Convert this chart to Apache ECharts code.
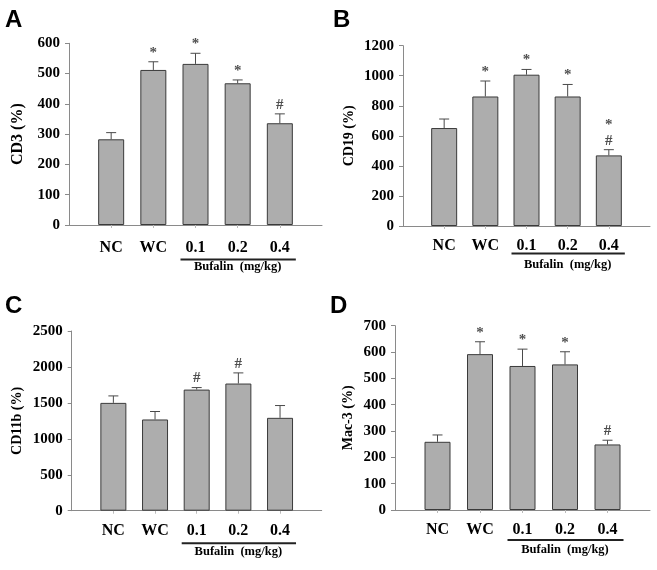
<!DOCTYPE html>
<html><head><meta charset="utf-8">
<script src="https://cdn.jsdelivr.net/npm/echarts@6/dist/echarts.min.js"></script>
<style>html,body{margin:0;padding:0;background:#fff}#c{width:657px;height:570px}</style>
</head><body><div id="c"></div>
<script>
// ---- data ----
const categories = ['NC', 'WC', '0.1', '0.2', '0.4'];
const groupLabel = 'Bufalin  (mg/kg)';
const panelLetters = ['A', 'B', 'C', 'D'];
const yTitles = ['CD3 (%)', 'CD19 (%)', 'CD11b (%)', 'Mac-3 (%)'];
const yMax = [600, 1200, 2500, 700];
const yStep = [100, 200, 500, 100];

const cd3Values = [283, 512, 532, 468, 336];
const cd3Err = [22, 27, 35, 11, 31];
const cd3Sig = ['', '*', '*', '*', '#'];

const cd19Values = [652, 862, 1007, 862, 470];
const cd19Err = [60, 103, 35, 80, 38];
const cd19Sig = ['', '*', '*', '*', '*\n#'];

const cd11bValues = [1500, 1269, 1685, 1769, 1292];
const cd11bErr = [97, 111, 28, 148, 171];
const cd11bSig = ['', '', '#', '#', ''];

const mac3Values = [259, 592, 547, 553, 249];
const mac3Err = [26, 47, 64, 48, 16];
const mac3Sig = ['', '*', '*', '*', '#'];

// ---- layout ----
const panels = [
  {vals: cd3Values, err: cd3Err, sig: cd3Sig, grid: {left: 69, top: 43.3, width: 253, height: 181.7}, nameGap: 43, nameSize: 16, labelMargin: 15, lineOff: 34.5, textOff: 41.7, letter: [0, 3]},
  {vals: cd19Values, err: cd19Err, sig: cd19Sig, grid: {left: 403, top: 45.7, width: 250, height: 180.3}, nameGap: 47, nameSize: 14, labelMargin: 12, lineOff: 27.5, textOff: 39, letter: [328, 3]},
  {vals: cd11bValues, err: cd11bErr, sig: cd11bSig, grid: {left: 71.7, top: 331, width: 250, height: 179.7}, nameGap: 47, nameSize: 14, labelMargin: 12, lineOff: 32.5, textOff: 40.7, letter: [0, 289]},
  {vals: mac3Values, err: mac3Err, sig: mac3Sig, grid: {left: 395, top: 325.7, width: 256, height: 184.3}, nameGap: 40, nameSize: 14, labelMargin: 12, lineOff: 30, textOff: 40, letter: [325, 289]}
];

const serif = 'Liberation Serif';
const axisCats = [' '].concat(categories).concat(['  ']);

const chart = echarts.init(document.getElementById('c'), null, {renderer: 'canvas'});

const option = {
  backgroundColor: '#ffffff',
  animation: false,
  title: panels.map((p, i) => ({
    text: panelLetters[i], left: p.letter[0], top: p.letter[1],
    textStyle: {fontFamily: 'Liberation Sans', fontWeight: 'bold', fontSize: 24, color: '#000'}
  })),
  grid: panels.map(p => Object.assign({}, p.grid)),
  xAxis: panels.map((p, i) => ({
    type: 'category', gridIndex: i, data: axisCats, boundaryGap: false,
    axisLine: {show: true, lineStyle: {color: '#8a8a8a', width: 1}},
    axisTick: {show: true, length: 3, interval: (idx) => idx > 0 && idx < axisCats.length - 1, lineStyle: {color: '#bbbbbb'}},
    axisLabel: {show: true, interval: 0, margin: p.labelMargin, fontFamily: serif, fontWeight: 'bold', fontSize: 16, color: '#000'},
    splitLine: {show: false}
  })),
  yAxis: panels.map((p, i) => ({
    type: 'value', gridIndex: i, min: 0, max: yMax[i], interval: yStep[i],
    name: yTitles[i], nameLocation: 'middle', nameGap: p.nameGap, nameRotate: 90,
    nameTextStyle: {fontFamily: serif, fontWeight: 'bold', fontSize: p.nameSize, color: '#000'},
    axisLine: {show: true, lineStyle: {color: '#8a8a8a', width: 1}},
    axisTick: {show: true, length: 4, inside: false, lineStyle: {color: '#8a8a8a'}},
    axisLabel: {margin: 9, fontFamily: serif, fontWeight: 'bold', fontSize: 15, color: '#000', formatter: (v) => String(v)},
    splitLine: {show: false}
  })),
  series: []
};

panels.forEach((p, i) => {
  option.series.push({
    type: 'bar', xAxisIndex: i, yAxisIndex: i, barWidth: 26,
    data: p.vals.map((v, k) => [k + 1, v]),
    itemStyle: {color: '#adadad', borderColor: '#3a3a3a', borderWidth: 1},
    z: 2
  });
  option.series.push({
    type: 'custom', xAxisIndex: i, yAxisIndex: i, z: 3,
    data: p.vals.map((v, k) => [k + 1, v, p.err[k]]),
    renderItem: function (params, api) {
      const x = api.value(0), v = api.value(1), e = api.value(2);
      const b = api.coord([x, v]);
      const t = api.coord([x, v + e]);
      const st = {stroke: '#4a4a4a', lineWidth: 1};
      return {type: 'group', children: [
        {type: 'line', shape: {x1: b[0], y1: b[1], x2: t[0], y2: t[1]}, style: st},
        {type: 'line', shape: {x1: t[0] - 5, y1: t[1], x2: t[0] + 5, y2: t[1]}, style: st}
      ]};
    }
  });
  option.series.push({
    type: 'scatter', xAxisIndex: i, yAxisIndex: i, symbolSize: 0, z: 4,
    data: p.vals.map((v, k) => [k + 1, v + p.err[k]]),
    label: {
      show: true, position: 'top', distance: 1,
      formatter: (prm) => p.sig[prm.dataIndex],
      fontFamily: serif, fontWeight: 'bold', fontSize: 15, lineHeight: 16, color: '#222'
    }
  });
});

chart.setOption(option);

// group bracket under the Bufalin doses
const graphics = [];
panels.forEach((p, i) => {
  const a = chart.convertToPixel({xAxisIndex: i, yAxisIndex: i}, [3, 0]);
  const b = chart.convertToPixel({xAxisIndex: i, yAxisIndex: i}, [5, 0]);
  const y = a[1] + p.lineOff;
  graphics.push({type: 'line', shape: {x1: a[0] - 15, y1: y, x2: b[0] + 16, y2: y}, style: {stroke: '#222', lineWidth: 2}});
  graphics.push({type: 'text', x: (a[0] + b[0]) / 2, y: a[1] + p.textOff,
    style: {text: groupLabel, fontFamily: serif, fontWeight: 'bold', fontSize: 12.5, fill: '#000', align: 'center', verticalAlign: 'middle'}});
});
chart.setOption({graphic: graphics});
</script>
</body></html>
